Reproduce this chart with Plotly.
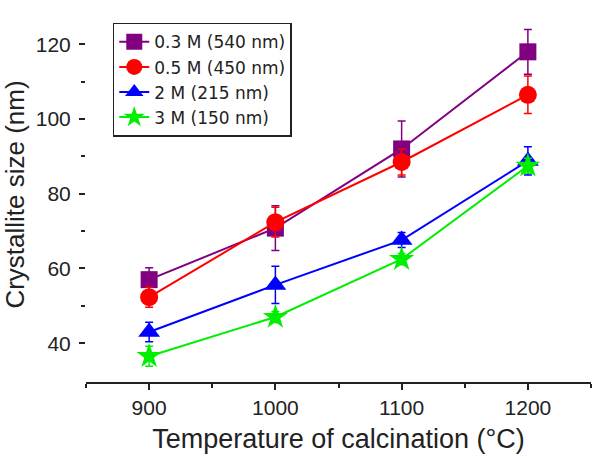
import plotly.graph_objects as go

temps = [900, 1000, 1100, 1200]
names = ["0.3 M (540 nm)", "0.5 M (450 nm)", "2 M (215 nm)", "3 M (150 nm)"]
size_03 = [57.0, 70.8, 92.0, 118.0]
err_03 = [3.2, 6.0, 7.5, 6.0]
size_05 = [52.3, 72.4, 88.5, 106.5]
err_05 = [2.7, 4.0, 3.5, 5.0]
size_2 = [43.0, 55.6, 67.6, 88.8]
err_2 = [2.6, 5.0, 2.0, 3.8]
size_3 = [36.5, 47.0, 62.5, 87.5]
err_3 = [2.7, 1.5, 1.5, 2.0]

series = [
    (names[0], size_03, err_03, "#800080", "square", 17),
    (names[1], size_05, err_05, "#ff0000", "circle", 18),
    (names[2], size_2, err_2, "#0000ff", "triangle-up", 19),
    (names[3], size_3, err_3, "#00ee00", "star", 19),
]

FONT = "Liberation Sans, Arial, sans-serif"
LFONT = "DejaVu Sans, Liberation Sans, sans-serif"
fig = go.Figure()
for name, ys, errs, col, sym, msz in series:
    fig.add_trace(go.Scatter(
        x=temps, y=ys, name=name, mode="lines+markers",
        line=dict(color=col, width=2),
        marker=dict(symbol=sym, size=msz, color=col, line=dict(width=0)),
        error_y=dict(type="data", array=errs, visible=True, color=col,
                     thickness=1.5, width=4),
    ))

XR = [850, 1250]
YR = [29.6, 130]
fig.update_layout(
    width=600, height=456,
    margin=dict(l=86, r=9, t=7, b=74),
    paper_bgcolor="white", plot_bgcolor="white",
    font=dict(family=FONT, color="#222", size=21),
    showlegend=True,
    legend=dict(x=0.053, y=0.958, xanchor="left", yanchor="top",
                bordercolor="#222", borderwidth=1.5, bgcolor="white",
                font=dict(size=17, family=LFONT, color="#222"),
                tracegroupgap=0, itemwidth=30),
    xaxis=dict(range=XR, tickvals=temps, ticks="outside", ticklen=6,
               tickwidth=1.5, tickcolor="#222", showline=True, linecolor="#222",
               linewidth=2, showgrid=False, zeroline=False,
               tickfont=dict(size=21),
               minor=dict(dtick=50, tick0=850, ticks="outside", ticklen=4,
                          tickcolor="#222", tickwidth=1.5),
               title=dict(text="Temperature of calcination (°C)",
                          font=dict(size=27), standoff=11)),
    yaxis=dict(range=YR, tickvals=[40, 60, 80, 100, 120], ticks="outside",
               ticklen=6, tickwidth=1.5, tickcolor="#222", showline=False,
               showgrid=False, zeroline=False, tickfont=dict(size=21),
               ticklabelstandoff=4,
               minor=dict(tickvals=[50, 70, 90, 110], ticks="outside",
                          ticklen=4, tickcolor="#222", tickwidth=1.5),
               title=dict(text="Crystallite size (nm)", font=dict(size=26),
                          standoff=6)),
    xaxis2=dict(range=XR, overlaying="x", side="top", anchor="y",
                tickvals=temps, ticks="inside", ticklen=6, tickwidth=1.5,
                tickcolor="#222", showticklabels=False, showgrid=False,
                zeroline=False, showline=False,
                minor=dict(tickvals=[950, 1050, 1150], ticks="inside",
                           ticklen=3, tickcolor="#222", tickwidth=1.5)),
    yaxis2=dict(range=YR, overlaying="y", side="right", anchor="x",
                tickvals=[40, 60, 80, 100, 120], ticks="inside", ticklen=7,
                tickwidth=1.5, tickcolor="#222", showticklabels=False,
                showgrid=False, zeroline=False, showline=False,
                minor=dict(tickvals=[50, 70, 90, 110], ticks="inside",
                           ticklen=4, tickcolor="#222", tickwidth=1.5)),
)
fig.write_html("out.html")
